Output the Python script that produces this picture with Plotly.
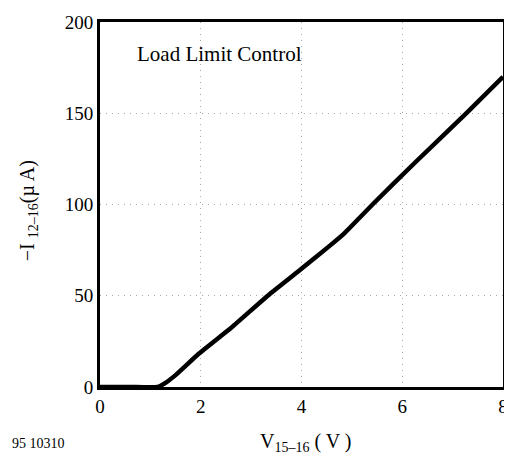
import plotly.graph_objects as go

v_volts = [0.0, 0.6, 1.14, 1.3, 1.5, 1.96, 2.61, 3.33, 3.92, 4.57, 4.85, 5.41, 6.24, 7.29, 8.0]
i_uA = [0.0, 0.0, 0.0, 2.3, 6.5, 18.2, 32.6, 50.0, 63.0, 77.6, 84.2, 100.0, 122.6, 150.5, 170.0]

x_ticks = [0, 2, 4, 6, 8]
y_ticks = [0, 50, 100, 150, 200]

font = "Liberation Serif"
grid = dict(showgrid=True, gridcolor="#a8a8a8", griddash="1px,5px", gridwidth=1,
            showline=True, linecolor="black", linewidth=3, mirror=True,
            zeroline=False, ticks="", tickfont=dict(family=font, size=19, color="black"))

fig = go.Figure()
fig.add_trace(go.Scatter(x=v_volts, y=i_uA, mode="lines",
                         line=dict(color="black", width=4.5, shape="spline", smoothing=0.4),
                         showlegend=False, hoverinfo="skip"))

fig.update_layout(
    width=504, height=450,
    margin=dict(l=92, r=4, t=9, b=71),
    paper_bgcolor="white", plot_bgcolor="white",
    font=dict(family=font, size=19, color="black"),
    xaxis=dict(range=[0, 8], tickvals=x_ticks, ticklabeloverflow="allow", **grid),
    yaxis=dict(range=[0, 200], tickvals=y_ticks, ticklabeloverflow="allow", **grid),
    annotations=[
        dict(text="Load Limit Control", x=0.087, y=0.913, xref="paper", yref="paper",
             xanchor="left", yanchor="middle", showarrow=False,
             font=dict(family=font, size=21)),
        dict(text="V<sub>15–16</sub> ( V )", x=0.512, y=-0.152, xref="paper", yref="paper",
             xanchor="center", yanchor="middle", showarrow=False,
             font=dict(family=font, size=20)),
        dict(text="−I <sub>12–16</sub>(µ A)", x=-0.179, y=0.484, xref="paper", yref="paper",
             xanchor="center", yanchor="middle", showarrow=False, textangle=-90,
             font=dict(family=font, size=20)),
        dict(text="95 10310", x=-0.152, y=-0.155, xref="paper", yref="paper",
             xanchor="center", yanchor="middle", showarrow=False,
             font=dict(family=font, size=14)),
    ],
)

fig.write_html("out.html")
